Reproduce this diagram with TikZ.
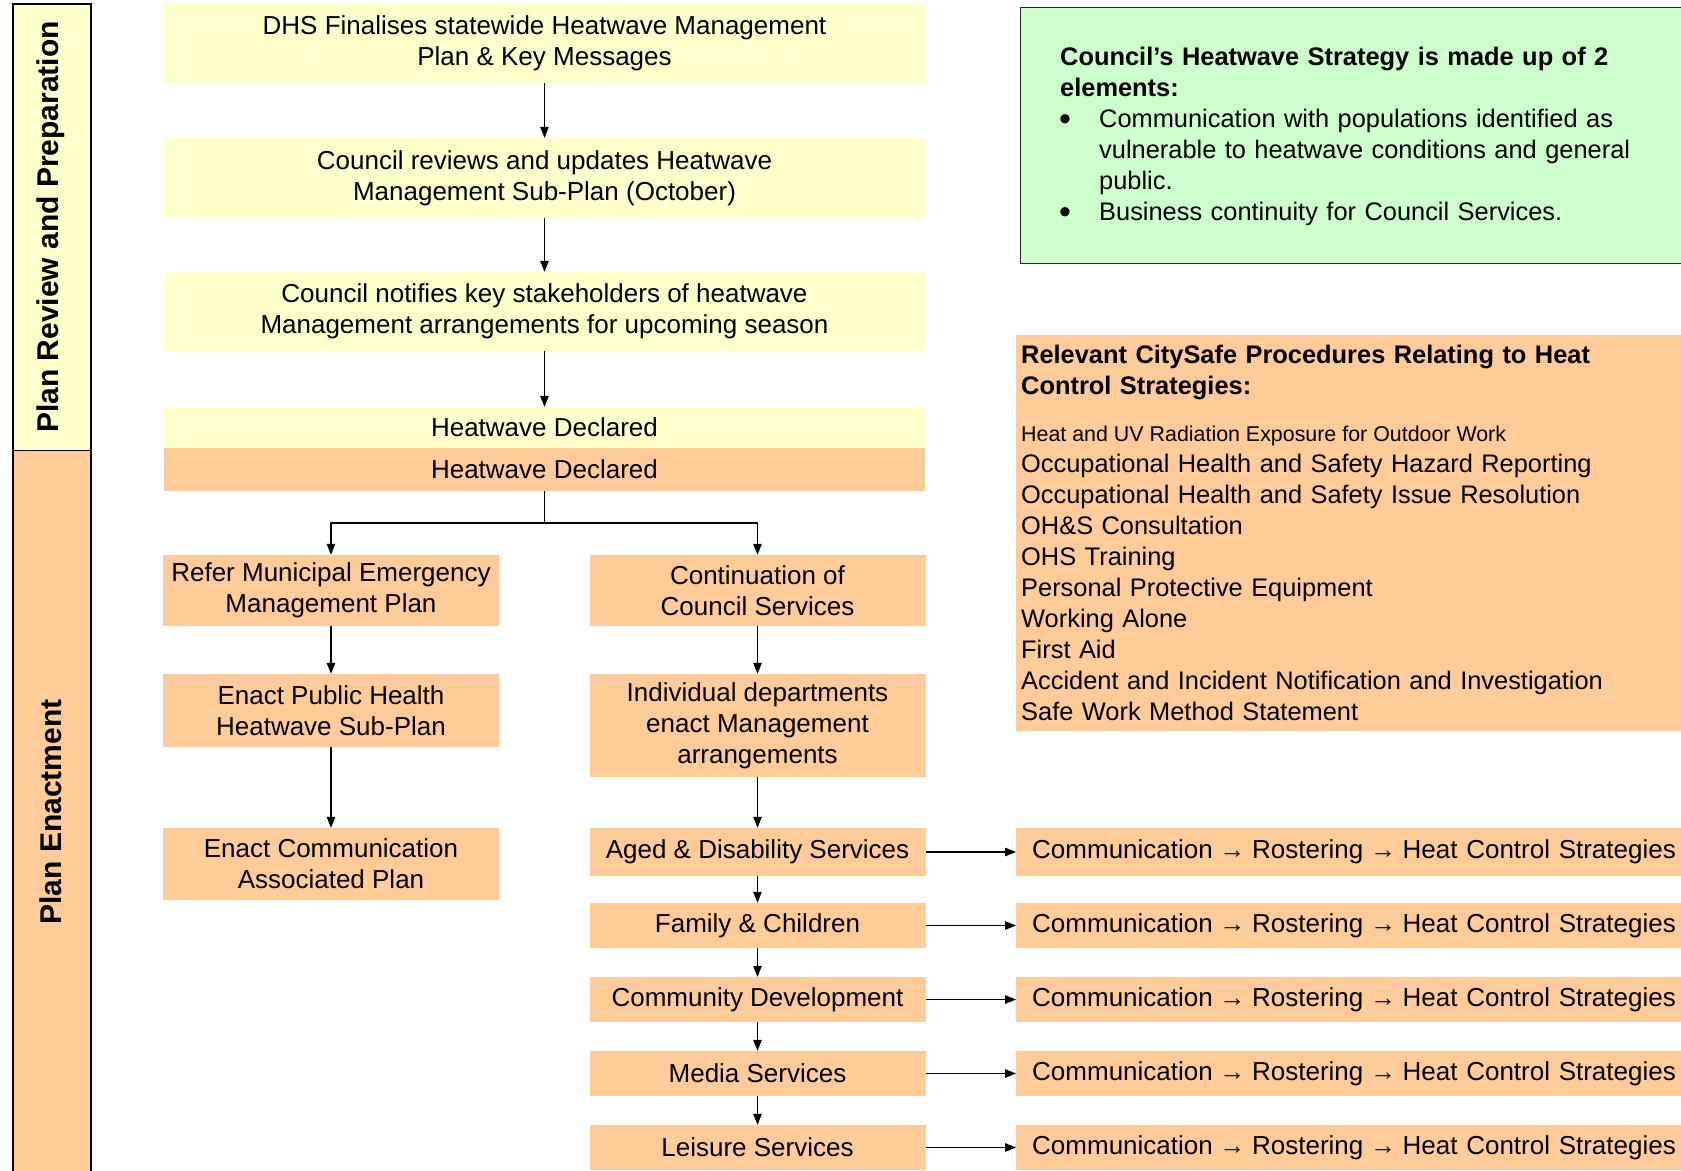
\documentclass[tikz,border=0pt]{standalone}
\usepackage{fontspec}
\setmainfont{Liberation Sans}
\usetikzlibrary{arrows.meta}
\definecolor{ylw}{RGB}{255,255,204}
\definecolor{orng}{RGB}{255,204,153}
\definecolor{grn}{RGB}{204,255,204}
\newcommand\fsA{\fontsize{26}{31}\selectfont}
\newcommand\fsR{\fontsize{25.4}{31}\selectfont}
\newcommand\fsB{\fontsize{21.4}{31}\selectfont}
\newcommand\fsV{\fontsize{30}{34}\selectfont\bfseries}
\newcommand\fsBul{\fontsize{34}{31}\selectfont}
\newcommand\rarrow{\kern-2pt→\kern-2pt}
\begin{document}
\begin{tikzpicture}[x=1pt,y=-1pt,
  yel/.style={fill=ylw, draw=none, inner sep=0pt, align=center, font=\fsA},
  org/.style={fill=orng, draw=none, inner sep=0pt, align=center, font=\fsA},
  wide/.style={minimum width=761pt},
  col/.style={minimum width=336pt},
  comm/.style={fill=orng, draw=none, inner xsep=16pt, inner ysep=0pt, text width=652pt, align=left, font=\fsA},
  txt/.style={anchor=base west, inner sep=0pt, align=left},
  arr/.style={-{Triangle[length=11pt,width=8.5pt]}, line width=1.2pt},
  band/.style={draw=black, line width=1.3pt}
]
\useasboundingbox (0,0) rectangle (1681,1170);
\clip (0,0) rectangle (1681,1170);

% left band
\fill[ylw] (13,4) rectangle (91,450);
\fill[orng] (13,450) rectangle (91,1185);
\draw[band] (13,1185) -- (13,4) -- (91,4) -- (91,1185);
\draw[line width=0.8pt] (13,450) -- (91,450);
\node[rotate=90, font=\fsV] (lprep) at (51,227) {Plan Review and Preparation};
\node[rotate=90, font=\fsV] (lenact) at (51,812) {Plan Enactment};

% top column
\node[yel, wide, minimum height=79pt] (dhs) at (544.5,43.5) {DHS Finalises statewide Heatwave Management\\Plan \& Key Messages};
\node[yel, wide, minimum height=80pt] (rev) at (544.5,178) {Council reviews and updates Heatwave\\Management Sub-Plan (October)};
\node[yel, wide, minimum height=79pt] (notif) at (544.5,311.5) {Council notifies key stakeholders of heatwave\\Management arrangements for upcoming season};
\node[yel, wide, minimum height=41pt] (hdy) at (544.5,427.5) {Heatwave Declared};
\node[org, wide, minimum height=43pt] (hdo) at (544.5,469.5) {Heatwave Declared};

% left column
\node[org, col, minimum height=71pt] (refer) at (331,590.5) {Refer Municipal Emergency\\Management Plan};
\node[org, col, minimum height=73pt] (eph) at (331,710.5) {Enact Public Health\\Heatwave Sub-Plan};
\node[org, col, minimum height=72pt] (ecom) at (331,864) {Enact Communication\\Associated Plan};

% right column
\node[org, col, minimum height=71pt] (cont) at (757.5,590.5) {Continuation of\\Council Services};
\node[org, col, minimum height=103pt] (indiv) at (757.5,725.5) {Individual departments\\enact Management\\arrangements};
\node[org, col, minimum height=48pt] (aged) at (757.5,852) {Aged \& Disability Services};
\node[org, col, minimum height=45pt] (fam) at (757.5,925.5) {Family \& Children};
\node[org, col, minimum height=45pt] (cdev) at (757.5,999.5) {Community Development};
\node[org, col, minimum height=45pt] (media) at (757.5,1073.5) {Media Services};
\node[org, col, minimum height=45pt] (leis) at (757.5,1147.5) {Leisure Services};

% communication boxes
\node[comm, minimum height=48pt, anchor=west] (c1) at (1016,852) {Communication \rarrow{} Rostering \rarrow{} Heat Control Strategies};
\node[comm, minimum height=45pt, anchor=west] (c2) at (1016,925.5) {Communication \rarrow{} Rostering \rarrow{} Heat Control Strategies};
\node[comm, minimum height=45pt, anchor=west] (c3) at (1016,999.5) {Communication \rarrow{} Rostering \rarrow{} Heat Control Strategies};
\node[comm, minimum height=45pt, anchor=west] (c4) at (1016,1073.5) {Communication \rarrow{} Rostering \rarrow{} Heat Control Strategies};
\node[comm, minimum height=45pt, anchor=west] (c5) at (1016,1147.5) {Communication \rarrow{} Rostering \rarrow{} Heat Control Strategies};

% green strategy box
\draw[fill=grn, draw=black!85, line width=1pt] (1020,7.5) rectangle (1700,263);
\node[txt, text width=610pt, font=\fsR\bfseries] (strath) at (1060,65) {Council’s Heatwave Strategy is made up of 2\\elements:};
\node[txt, font=\fsBul] (bul1) at (1059,130) {•};
\node[txt, text width=560pt, font=\fsR] (bt1) at (1099,127) {Communication with populations identified as\\vulnerable to heatwave conditions and general\\public.};
\node[txt, font=\fsBul] (bul2) at (1059,223) {•};
\node[txt, text width=560pt, font=\fsR] (bt2) at (1099,220) {Business continuity for Council Services.};

% CitySafe box
\fill[orng] (1016,334.5) rectangle (1700,731);
\node[txt, text width=640pt, font=\fsR\bfseries] (csh) at (1021,363) {Relevant CitySafe Procedures Relating to Heat\\Control Strategies:};
\node[txt, font=\fsB] (cs0) at (1021,441.6) {Heat and UV Radiation Exposure for Outdoor Work};
\node[txt, text width=640pt, font=\fsR] (csl) at (1021,472.5) {%
  Occupational Health and Safety Hazard Reporting\\
  Occupational Health and Safety Issue Resolution\\
  OH\&S Consultation\\
  OHS Training\\
  Personal Protective Equipment\\
  Working Alone\\
  First Aid\\
  Accident and Incident Notification and Investigation\\
  Safe Work Method Statement};

% connectors
\draw[arr] (dhs) -- (rev);
\draw[arr] (rev) -- (notif);
\draw[arr] (notif) -- (hdy);
\coordinate (split) at (544.5,523);
\draw[line width=1.2pt] (hdo.south) -- (split);
\draw[arr] (split) -| (refer.north);
\draw[arr] (split) -| (cont.north);
\draw[arr] (refer) -- (eph);
\draw[arr] (eph) -- (ecom);
\draw[arr] (cont) -- (indiv);
\draw[arr] (indiv) -- (aged);
\draw[arr] (aged) -- (fam);
\draw[arr] (fam) -- (cdev);
\draw[arr] (cdev) -- (media);
\draw[arr] (media) -- (leis);
\draw[arr] (aged) -- (c1);
\draw[arr] (fam) -- (c2);
\draw[arr] (cdev) -- (c3);
\draw[arr] (media) -- (c4);
\draw[arr] (leis) -- (c5);
\end{tikzpicture}
\end{document}
